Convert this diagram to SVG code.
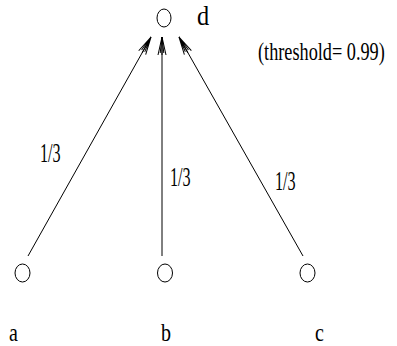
<svg xmlns="http://www.w3.org/2000/svg" width="397" height="346" viewBox="0 0 397 346">
<style>
.n{fill:none;stroke:#000;stroke-width:1}
.t{font-family:"Liberation Serif","Times New Roman",serif;font-size:25px;fill:#000}
.f{font-size:27px}
.e{fill:none;stroke:#000;stroke-width:1}
</style>
<defs>
<marker id="ah" markerUnits="userSpaceOnUse" markerWidth="30" markerHeight="20" refX="0" refY="0" viewBox="-22 -10 30 20" orient="auto" overflow="visible">
<path d="M0,0 L-18,-4 M0,0 L-18,4 M0,0 L-16,-1.8 M0,0 L-16,1.8 M0,0 L-18,0" fill="none" stroke="#000" stroke-width="1"/>
</marker>
</defs>
<rect width="397" height="346" fill="#fff"/>
<g id="connectors">
<line class="e" x1="28" y1="256" x2="151" y2="37" marker-end="url(#ah)"/>
<line class="e" x1="162" y1="256" x2="162" y2="37" marker-end="url(#ah)"/>
<line class="e" x1="303" y1="256" x2="179" y2="37" marker-end="url(#ah)"/>
<text class="t f" transform="translate(40,162) scale(0.6,1)">1/3</text>
<text class="t f" transform="translate(170,186) scale(0.6,1)">1/3</text>
<text class="t f" transform="translate(275,190) scale(0.6,1)">1/3</text>
</g>
<g id="node-d">
<ellipse class="n" cx="164" cy="18" rx="7" ry="9"/>
<text class="t f" transform="translate(197,25) scale(0.9,1)">d</text>
</g>
<g id="threshold">
<text class="t" transform="translate(258,60) scale(0.73,1)">(threshold= 0.99)</text>
</g>
<g id="node-a">
<ellipse class="n" cx="22.5" cy="273" rx="7.5" ry="9"/>
<text class="t" transform="translate(9,341) scale(0.8,1)">a</text>
</g>
<g id="node-b">
<ellipse class="n" cx="165" cy="273" rx="7.5" ry="9"/>
<text class="t" transform="translate(161,341) scale(0.8,1)">b</text>
</g>
<g id="node-c">
<ellipse class="n" cx="307.5" cy="273" rx="7.5" ry="9"/>
<text class="t" transform="translate(315,341) scale(0.8,1)">c</text>
</g>
</svg>
